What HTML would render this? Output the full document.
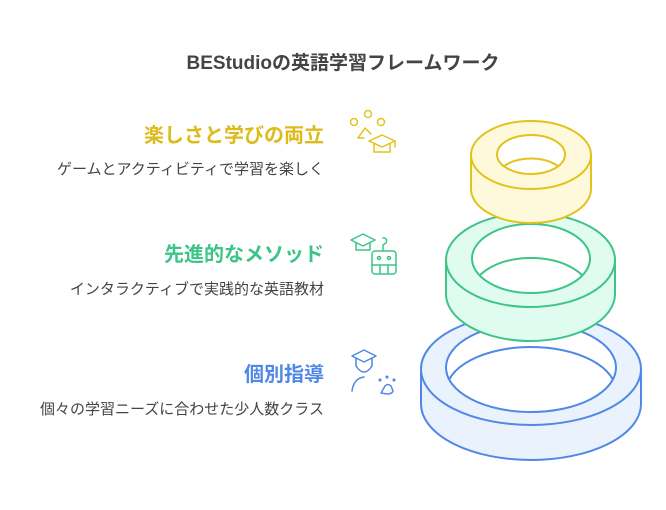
<!DOCTYPE html>
<html><head><meta charset="utf-8"><style>
body{margin:0;width:666px;height:510px;background:#fff;overflow:hidden;position:relative;font-family:"Liberation Sans","Noto Sans CJK JP",sans-serif}
.t{position:absolute;white-space:nowrap}
.h{right:342px;font-weight:bold;font-size:20px}
.s{right:342px;font-size:15px;color:#444}
</style></head><body>
<div class="t" style="left:0;width:686px;text-align:center;top:48px;font-size:19px;font-weight:bold;color:#444">BEStudioの英語学習フレームワーク</div>
<div class="t h" style="top:119px;color:#DDBB1A">楽しさと学びの両立</div>
<div class="t s" style="top:158px">ゲームとアクティビティで学習を楽しく</div>
<div class="t h" style="top:238px;color:#3DC487">先進的なメソッド</div>
<div class="t s" style="top:278px">インタラクティブで実践的な英語教材</div>
<div class="t h" style="top:358px;color:#4F88E6">個別指導</div>
<div class="t s" style="top:398px">個々の学習ニーズに合わせた少人数クラス</div>
<svg width="666" height="510" style="position:absolute;left:0;top:0" fill="none" stroke-width="2" stroke-linecap="round" stroke-linejoin="round">
<g stroke="#4F88E6">
<path d="M421 369 A110 56 0 0 1 641 369 L641 404 A110 56 0 0 1 421 404 Z" fill="#EAF2FE"/>
<path d="M421 369 A110 56 0 0 0 641 369"/>
<ellipse cx="531" cy="367.5" rx="85" ry="44.5" fill="#fff"/>
<clipPath id="cb"><ellipse cx="531" cy="367.5" rx="85" ry="44.5"/></clipPath>
<ellipse cx="531" cy="391.5" rx="85" ry="44.5" clip-path="url(#cb)"/>
</g>
<g stroke="#3DC487">
<path d="M446 260 A84.5 47 0 0 1 615 260 L615 294 A84.5 47 0 0 1 446 294 Z" fill="#E0FBEF"/>
<path d="M446 260 A84.5 47 0 0 0 615 260"/>
<ellipse cx="531" cy="258.5" rx="59" ry="34.5" fill="#fff"/>
<clipPath id="cg"><ellipse cx="531" cy="258.5" rx="59" ry="34.5"/></clipPath>
<ellipse cx="531" cy="292.5" rx="59" ry="34.5" clip-path="url(#cg)"/>
</g>
<g stroke="#E2C31B">
<path d="M471 155 A60 34 0 0 1 591 155 L591 189 A60 34 0 0 1 471 189 Z" fill="#FEF9DB"/>
<path d="M471 155 A60 34 0 0 0 591 155"/>
<ellipse cx="531" cy="154.5" rx="34" ry="19.5" fill="#fff"/>
<clipPath id="cy"><ellipse cx="531" cy="154.5" rx="34" ry="19.5"/></clipPath>
<ellipse cx="531" cy="178" rx="34" ry="19.5" clip-path="url(#cy)"/>
</g>
<g stroke="#E2C31B" stroke-width="1.5">
<circle cx="368" cy="114" r="3.5"/><circle cx="354" cy="122" r="3.5"/><circle cx="381" cy="122" r="3.5"/>
<path d="M358 138 L365 128 L371 134"/><path d="M358 138 L364 138"/>
<path d="M369 141 L382 135 L395 141 L382 147 Z"/><path d="M374 144 V152 H390 V144"/><path d="M395 141 V147"/>
</g>
<g stroke="#3DC487" stroke-width="1.5">
<path d="M351 240 L363 234 L375 240 L363 246 Z"/><path d="M356 243 V250 H370 V243"/>
<path d="M383 238 Q388 238 386 243 L383 245 V250"/>
<rect x="372" y="251" width="24" height="23" rx="3"/><circle cx="379" cy="258" r="1.5"/><circle cx="389" cy="258" r="1.5"/>
<path d="M372 265 H396 M380 265 V274 M388 265 V274"/>
</g>
<g stroke="#4F88E6" stroke-width="1.5">
<path d="M352 356 L364 350 L376 356 L364 362 Z"/><path d="M356 358 V366 Q364 378 372 366 V358"/>
<path d="M352 391 Q354 378 364 377"/>
<circle cx="380" cy="380" r="0.8"/><circle cx="387" cy="377" r="0.8"/><circle cx="394" cy="380" r="0.8"/>
<path d="M381 393 L385 386 Q388 383 391 386 L393 391 Q392 394 387 394 Z"/>
</g>
</svg>
</body></html>
